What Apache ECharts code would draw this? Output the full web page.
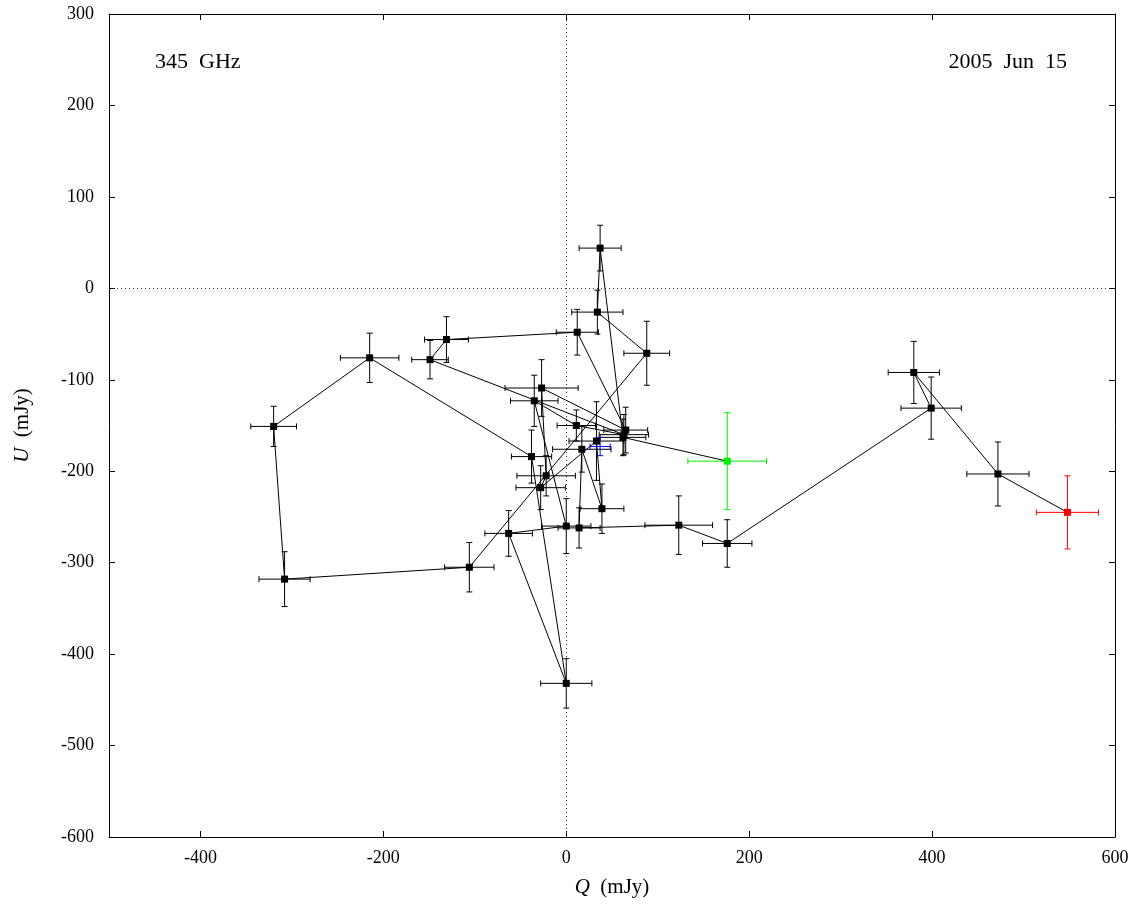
<!DOCTYPE html>
<html>
<head>
<meta charset="utf-8">
<script src="https://cdn.jsdelivr.net/npm/echarts@6/dist/echarts.min.js"></script>
<style>
html,body{margin:0;padding:0;background:#fff;}
#chart{width:1142px;height:909px;}
</style>
</head>
<body>
<div id="chart"></div>
<script>
// Polarization track (time order): first point = green, last point = red
var qVals = [176, 62, 37, 34, 88, -106, -308, -320, -215, -38, 0, -63, 0, -35, 11, 63, -149, -131, 12, 65, -27, -22, -28, 33, 39, 17, 14, 123, 176, 399, 380, 472, 548];
var uVals = [-189, -163, 44, -26, -71, -305, -318, -151, -76, -184, -432, -268, -260, -123, -150, -160, -78, -56, -48, -155, -109, -205, -218, -167, -241, -176, -262, -259, -279, -131, -92, -203, -245];
var qErr  = [43, 25, 23, 28, 25, 27, 28, 25, 32, 22, 28, 26, 27, 26, 21, 27, 20, 24, 23, 24, 40, 32, 27, 30, 24, 32, 23, 37, 27, 33, 28, 34, 34];
var uErr  = [53, 20, 25, 24, 35, 27, 30, 22, 27, 29, 27, 25, 30, 28, 17, 22, 21, 25, 25, 25, 31, 22, 24, 43, 27, 25, 22, 32, 26, 34, 34, 35, 40];
// Mean point (blue)
var meanQ = [37];
var meanU = [-173];
var meanQErr = [11];
var meanUErr = [10];
// Axis ticks
var xTicks = [-400, -200, 0, 200, 400, 600];
var yTicks = [-600, -500, -400, -300, -200, -100, 0, 100, 200, 300];
var freqLabel = '345  GHz';
var dateLabel = '2005  Jun  15';

var FONT = '"Liberation Serif", "DejaVu Serif", serif';
var last = qVals.length - 1;

function errItems(qs, us, qe, ue) {
  return qs.map(function (q, i) { return [q, us[i], qe[i], ue[i]]; });
}
function errRender(color) {
  return function (params, api) {
    var q = api.value(0), u = api.value(1), qe = api.value(2), ue = api.value(3);
    var l = api.coord([q - qe, u]), r = api.coord([q + qe, u]);
    var t = api.coord([q, u + ue]), b = api.coord([q, u - ue]);
    var cap = 3;
    var st = { stroke: color, lineWidth: 1 };
    function ln(x1, y1, x2, y2) { return { type: 'line', shape: { x1: x1, y1: y1, x2: x2, y2: y2 }, style: st }; }
    return { type: 'group', children: [
      ln(l[0], l[1], r[0], r[1]),
      ln(l[0], l[1] - cap, l[0], l[1] + cap),
      ln(r[0], r[1] - cap, r[0], r[1] + cap),
      ln(t[0], t[1], b[0], b[1]),
      ln(t[0] - cap, t[1], t[0] + cap, t[1]),
      ln(b[0] - cap, b[1], b[0] + cap, b[1])
    ]};
  };
}

var all = errItems(qVals, uVals, qErr, uErr);
var blackErr = all.slice(1, last);
var greenErr = [all[0]];
var redErr = [all[last]];
var blueErr = errItems(meanQ, meanU, meanQErr, meanUErr);

var pathData = qVals.map(function (q, i) {
  var d = { value: [q, uVals[i]] };
  if (i === 0) d.itemStyle = { color: '#00ee00' };
  if (i === last) d.itemStyle = { color: '#ff0000' };
  return d;
});

var axisLabelStyle = { fontFamily: FONT, fontSize: 18, color: '#000' };

var option = {
  animation: false,
  backgroundColor: '#fff',
  grid: { left: 109, right: 27, top: 14, bottom: 72, containLabel: false },
  title: [
    { text: freqLabel, left: 150, top: 46, textStyle: { fontFamily: FONT, fontSize: 22, fontWeight: 'normal', color: '#000' } },
    { text: dateLabel, right: 70, top: 46, textStyle: { fontFamily: FONT, fontSize: 22, fontWeight: 'normal', color: '#000' } }
  ],
  xAxis: [
    {
      type: 'value', min: -500, max: 600, position: 'bottom',
      axisLine: { show: true, onZero: false, lineStyle: { color: '#000', width: 1 } },
      axisTick: { show: true, inside: true, length: 6, customValues: xTicks, lineStyle: { color: '#000' } },
      axisLabel: { show: true, customValues: xTicks, margin: 12, ...axisLabelStyle },
      splitLine: { show: false },
      name: '{i|Q}  (mJy)', nameLocation: 'middle', nameGap: 40,
      nameTextStyle: { fontFamily: FONT, fontSize: 21, color: '#000',
        rich: { i: { fontFamily: FONT, fontSize: 21, fontStyle: 'italic', color: '#000' } } }
    },
    {
      type: 'value', min: -500, max: 600, position: 'top',
      axisLine: { show: true, onZero: false, lineStyle: { color: '#000', width: 1 } },
      axisTick: { show: true, inside: true, length: 6, customValues: xTicks, lineStyle: { color: '#000' } },
      axisLabel: { show: false }, splitLine: { show: false }
    }
  ],
  yAxis: [
    {
      type: 'value', min: -600, max: 300, position: 'left',
      axisLine: { show: true, onZero: false, lineStyle: { color: '#000', width: 1 } },
      axisTick: { show: true, inside: true, length: 6, customValues: yTicks, lineStyle: { color: '#000' } },
      axisLabel: { show: true, customValues: yTicks, margin: 15, ...axisLabelStyle },
      splitLine: { show: false },
      name: '{i|U}  (mJy)', nameLocation: 'middle', nameGap: 76, nameRotate: 90,
      nameTextStyle: { fontFamily: FONT, fontSize: 21, color: '#000',
        rich: { i: { fontFamily: FONT, fontSize: 21, fontStyle: 'italic', color: '#000' } } }
    },
    {
      type: 'value', min: -600, max: 300, position: 'right',
      axisLine: { show: true, onZero: false, lineStyle: { color: '#000', width: 1 } },
      axisTick: { show: true, inside: true, length: 6, customValues: yTicks, lineStyle: { color: '#000' } },
      axisLabel: { show: false }, splitLine: { show: false }
    }
  ],
  series: [
    {
      type: 'line', data: [], xAxisIndex: 0, yAxisIndex: 0, silent: true,
      markLine: {
        silent: true, symbol: 'none', label: { show: false },
        lineStyle: { type: [1, 3], color: '#333', width: 1 },
        data: [{ xAxis: 0 }, { yAxis: 0 }]
      }
    },
    { type: 'custom', renderItem: errRender('#000'), data: blackErr, z: 3 },
    { type: 'custom', renderItem: errRender('#00ee00'), data: greenErr, z: 3 },
    { type: 'custom', renderItem: errRender('#ff0000'), data: redErr, z: 3 },
    { type: 'custom', renderItem: errRender('#0000ff'), data: blueErr, z: 4 },
    {
      type: 'line', data: pathData, z: 5,
      symbol: 'rect', symbolSize: 7, showSymbol: true,
      lineStyle: { color: '#000', width: 1 },
      itemStyle: { color: '#000' }
    }
  ]
};

var chart = echarts.init(document.getElementById('chart'), null, { renderer: 'canvas' });
chart.setOption(option);
</script>
</body>
</html>
